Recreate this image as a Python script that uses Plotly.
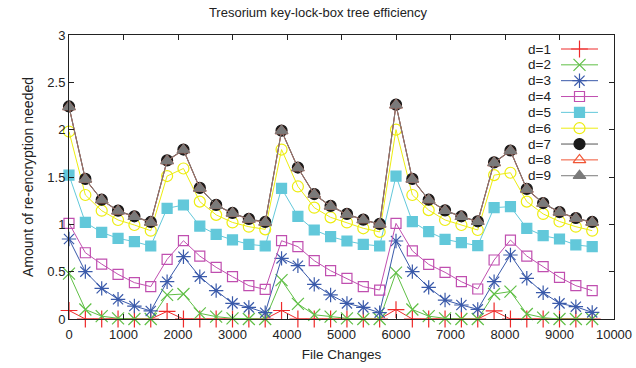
import plotly.graph_objects as go

file_changes = [i * 300 for i in range(33)]

d1 = [0.09, 0, 0, 0, 0, 0, 0.08, 0, 0, 0, 0, 0, 0, 0.09, 0, 0, 0, 0, 0, 0,
      0.1, 0, 0, 0, 0, 0, 0.085, 0, 0, 0, 0, 0, 0]
d2 = [0.48, 0.10, 0.03, 0.007, 0, 0, 0.254, 0.264, 0.06, 0.025, 0.007, 0, 0, 0.41, 0.16, 0.045,
      0.025, 0.007, 0, 0, 0.49, 0.10, 0.03, 0.007, 0, 0, 0.264, 0.29, 0.053, 0.014, 0, 0, 0]
d3 = [0.845, 0.50, 0.324, 0.208, 0.137, 0.085, 0.394, 0.658, 0.447, 0.30, 0.165, 0.123, 0.067,
      0.64, 0.563, 0.366, 0.254, 0.165, 0.123, 0.067, 0.824, 0.50, 0.334, 0.20, 0.148, 0.102,
      0.394, 0.676, 0.43, 0.278, 0.165, 0.13, 0.07]
d4 = [1.01, 0.70, 0.58, 0.472, 0.384, 0.342, 0.63, 0.827, 0.665, 0.546, 0.447, 0.352, 0.313,
      0.827, 0.764, 0.616, 0.51, 0.43, 0.342, 0.306, 1.01, 0.72, 0.577, 0.493, 0.394, 0.317,
      0.623, 0.834, 0.665, 0.553, 0.44, 0.352, 0.30]
d5 = [1.52, 1.02, 0.915, 0.852, 0.817, 0.771, 1.169, 1.204, 0.982, 0.894, 0.835, 0.789, 0.771,
      1.38, 1.085, 0.94, 0.87, 0.824, 0.789, 0.771, 1.51, 1.028, 0.922, 0.842, 0.806, 0.775,
      1.176, 1.187, 0.958, 0.88, 0.845, 0.782, 0.764]
d6 = [1.98, 1.31, 1.144, 1.046, 0.993, 0.933, 1.51, 1.59, 1.24, 1.10, 1.02, 0.975, 0.947,
      1.79, 1.40, 1.176, 1.074, 1.02, 0.958, 0.92, 2.00, 1.31, 1.15, 1.046, 0.993, 0.94,
      1.52, 1.545, 1.24, 1.11, 1.03, 0.975, 0.933]
d7 = [2.245, 1.48, 1.26, 1.145, 1.085, 1.025, 1.675, 1.79, 1.385, 1.205, 1.12, 1.058, 1.025,
      1.99, 1.6, 1.32, 1.195, 1.11, 1.05, 1.005, 2.265, 1.48, 1.26, 1.148, 1.085, 1.032,
      1.655, 1.78, 1.375, 1.225, 1.13, 1.067, 1.025]
d8 = [2.24, 1.475, 1.257, 1.14, 1.08, 1.02, 1.67, 1.785, 1.38, 1.20, 1.116, 1.053, 1.02,
      1.986, 1.595, 1.315, 1.19, 1.105, 1.046, 1.00, 2.26, 1.475, 1.257, 1.144, 1.08, 1.028,
      1.65, 1.775, 1.37, 1.22, 1.127, 1.063, 1.02]
d9 = [2.24, 1.475, 1.257, 1.14, 1.08, 1.02, 1.67, 1.785, 1.38, 1.20, 1.116, 1.053, 1.02,
      1.986, 1.595, 1.315, 1.19, 1.105, 1.046, 1.00, 2.26, 1.475, 1.257, 1.144, 1.08, 1.028,
      1.65, 1.775, 1.37, 1.22, 1.127, 1.063, 1.02]

series = [
    ("d=1", d1, "#ee2a2a", "#ee2a2a", "cross-thin-open", 12),
    ("d=2", d2, "#5fbf45", "#5fbf45", "x-thin-open", 12),
    ("d=3", d3, "#3a5aaa", "#3a5aaa", "asterisk-open", 12),
    ("d=4", d4, "#c04fb0", "#c04fb0", "square-open", 10),
    ("d=5", d5, "#62c8da", "#62c8da", "square", 10),
    ("d=6", d6, "#eded10", "#eded10", "circle-open", 11),
    ("d=7", d7, "#555555", "#1a1a1a", "circle", 11),
    ("d=8", d8, "#f05535", "#f05535", "triangle-up-open", 11),
    ("d=9", d9, "#7a7a7a", "#7a7a7a", "triangle-up", 11),
]

fig = go.Figure()
font = "Liberation Sans, Arial, sans-serif"

for name, vals, lcol, mcol, sym, sz in series:
    fig.add_trace(go.Scatter(
        x=file_changes, y=vals, mode="lines+markers", name=name,
        line=dict(color=lcol, width=1),
        marker=dict(symbol=sym, size=sz, color=mcol, line=dict(color=mcol, width=1.2)),
        cliponaxis=False, showlegend=False,
    ))

# custom legend (gnuplot style: label right-aligned, sample to the right)
leg_y0 = 49
leg_dy = 15.84
for i, (name, vals, lcol, mcol, sym, sz) in enumerate(series):
    yy = leg_y0 + i * leg_dy
    fig.add_trace(go.Scatter(
        x=[561, 598], y=[yy, yy], mode="lines", line=dict(color=lcol, width=1),
        xaxis="x2", yaxis="y2", showlegend=False, hoverinfo="skip", cliponaxis=False,
    ))
    fig.add_trace(go.Scatter(
        x=[579.5], y=[yy], mode="markers",
        marker=dict(symbol=sym, size=sz, color=mcol, line=dict(color=mcol, width=1.2)),
        xaxis="x2", yaxis="y2", showlegend=False, hoverinfo="skip", cliponaxis=False,
    ))
    fig.add_annotation(x=553, y=yy, xref="x2", yref="y2", text=name, showarrow=False,
                       xanchor="right", yanchor="middle",
                       font=dict(family=font, size=13.5, color="#222"))

fig.update_layout(
    width=636, height=368,
    margin=dict(l=69, r=22, t=35, b=49, autoexpand=False),
    paper_bgcolor="white", plot_bgcolor="white",
    font=dict(family=font, size=13, color="#222"),
    title=dict(text="Tresorium key-lock-box tree efficiency", x=0.5, xanchor="center",
               y=1 - 12 / 368, yanchor="middle", font=dict(size=13, color="#222")),
    xaxis=dict(range=[0, 10000], dtick=1000, tick0=0, tickformat="d", showgrid=False,
               zeroline=False, automargin=False, ticklabelstandoff=3,
               showline=True, linecolor="#222", linewidth=1, mirror="allticks",
               ticks="inside", ticklen=5, tickcolor="#222",
               title=dict(text="File Changes", standoff=8, font=dict(size=13.5))),
    yaxis=dict(range=[0, 3], dtick=0.5, tick0=0, showgrid=False, zeroline=False,
               automargin=False,
               showline=True, linecolor="#222", linewidth=1, mirror="allticks",
               ticks="inside", ticklen=5, tickcolor="#222",
               title=dict(text="Amount of re-encryption needed", standoff=10, font=dict(size=14))),
    xaxis2=dict(range=[69, 614], domain=[0, 1], overlaying="x", visible=False, fixedrange=True),
    yaxis2=dict(range=[319, 35], domain=[0, 1], overlaying="y", visible=False, fixedrange=True),
)

fig.write_html("out.html", config={"displayModeBar": False},
               post_script="document.body.style.margin='0';document.body.style.padding='0';")
